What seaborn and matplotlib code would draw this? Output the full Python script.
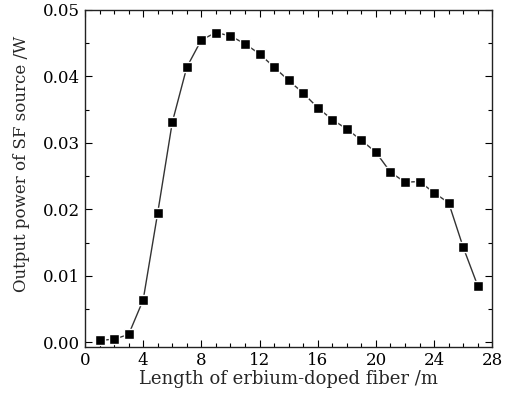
import numpy as np
import pandas as pd
import seaborn as sns
import matplotlib.pyplot as plt
from matplotlib.ticker import MultipleLocator

# fiber length (m) and output power of the SF source (W)
fiber_length = [1, 2, 3, 4, 5, 6, 7, 8, 9, 10, 11, 12, 13, 14,
                15, 16, 17, 18, 19, 20, 21, 22, 23, 24, 25, 26, 27]
output_power = [0.0003, 0.0005, 0.0012, 0.0064, 0.0195, 0.0331, 0.0414,
                0.0455, 0.0466, 0.0461, 0.0449, 0.0434, 0.0414, 0.0394,
                0.0375, 0.0353, 0.0335, 0.0321, 0.0304, 0.0286, 0.0256,
                0.0241, 0.0242, 0.0225, 0.0210, 0.0143, 0.0085]

df = pd.DataFrame({'length': fiber_length, 'power': output_power})

sns.set_style('ticks')
plt.rcParams['font.family'] = ['DejaVu Serif']

fig = plt.figure(figsize=(5.15, 3.99), dpi=100)
ax = fig.add_axes([0.165, 0.130, 0.791, 0.845])

sns.lineplot(data=df, x='length', y='power', ax=ax, color='#333333',
             linewidth=1.0, marker='s', markersize=6.5,
             markerfacecolor='black', markeredgecolor='white',
             markeredgewidth=1.0)

ax.set_xlim(0, 28)
ax.set_ylim(-0.0007, 0.05)
ax.xaxis.set_major_locator(MultipleLocator(4))
ax.xaxis.set_minor_locator(MultipleLocator(1))
ax.yaxis.set_major_locator(MultipleLocator(0.01))
ax.yaxis.set_minor_locator(MultipleLocator(0.005))
ax.yaxis.set_major_formatter(plt.FuncFormatter(lambda v, p: '%.2f' % v))

ax.tick_params(which='both', direction='in', top=True, right=True,
               labelsize=12, colors='black', width=0.8)
ax.tick_params(which='major', length=5)
ax.tick_params(which='minor', length=3)
for s in ax.spines.values():
    s.set_linewidth(1.0)
    s.set_color('#222222')

ax.set_xlabel('Length of erbium-doped fiber /m', fontsize=13, labelpad=1)
ax.set_ylabel('Output power of SF source /W', fontsize=12)
ax.yaxis.set_label_coords(-0.135, 0.543)

fig.savefig('out.png', dpi=100)
